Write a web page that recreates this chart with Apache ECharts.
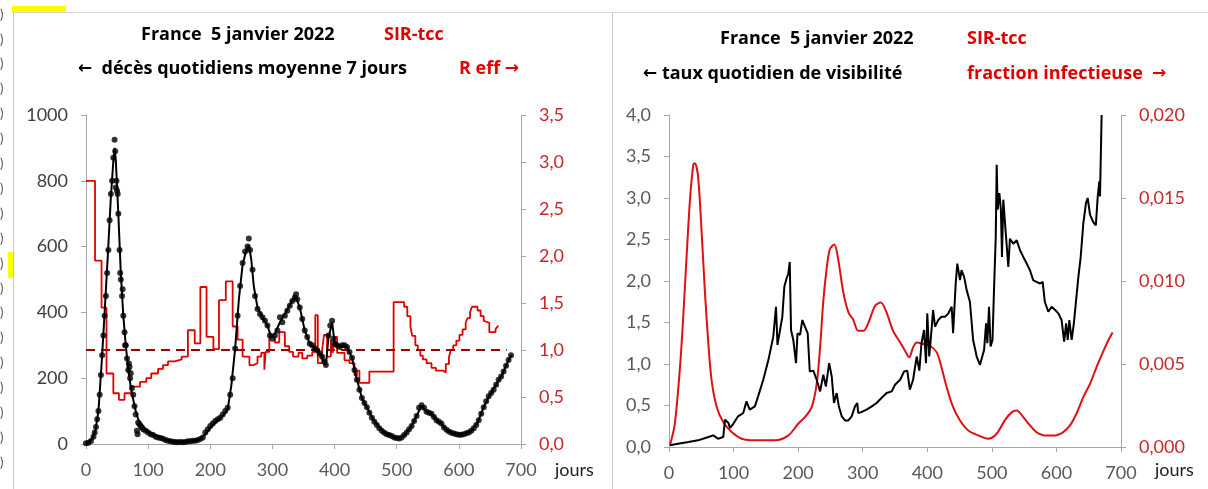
<!DOCTYPE html>
<html>
<head>
<meta charset="utf-8">
<script src="https://cdn.jsdelivr.net/npm/echarts@6/dist/echarts.min.js"></script>
<style>
  html, body { margin: 0; padding: 0; background: #fff; }
  #chart { width: 1208px; height: 489px; }
</style>
</head>
<body>
<div id="chart"></div>
<script>
// jours (axe x commun)
const joursTicks = [0, 100, 200, 300, 400, 500, 600, 700];

// décès quotidiens, moyenne 7 jours (points observés) [jour, décès]
const decesObs = [[0,2],[4,4],[8,9],[12,22],[14,35],[16,52],[18,75],[20,100],[22,150],[24,210],[26,270],[28,330],[30,390],[32,450],[34,520],[36,590],[38,680],[40,760],[42,800],[44,870],[46,925],[47,890],[48,780],[49,800],[50,770],[51,760],[52,700],[54,590],[55,520],[56,500],[58,450],[59,470],[60,390],[62,340],[63,300],[64,300],[66,260],[68,225],[69,245],[70,235],[71,200],[72,215],[74,170],[76,150],[78,115],[80,90],[82,40],[83,30],[84,65],[86,60],[88,55],[90,50],[92,45],[96,40],[100,35],[104,30],[108,27],[112,22],[116,20],[120,18],[124,16],[128,12],[132,10],[136,8],[140,7],[144,6],[148,5],[152,6],[156,5],[160,6],[164,8],[168,8],[172,10],[176,10],[180,12],[184,15],[188,20],[192,35],[196,45],[200,55],[204,62],[208,70],[212,75],[216,80],[220,90],[224,100],[228,110],[232,150],[236,200],[240,290],[244,390],[248,480],[252,550],[256,585],[260,600],[262,625],[264,590],[268,530],[272,450],[276,410],[280,395],[284,385],[288,375],[292,360],[296,330],[300,320],[304,330],[308,345],[312,385],[316,370],[320,390],[324,405],[328,420],[332,435],[336,445],[338,455],[340,440],[344,415],[348,380],[352,345],[356,325],[360,305],[364,300],[368,290],[372,285],[376,275],[380,265],[384,250],[386,240],[390,330],[393,360],[396,375],[398,320],[400,305],[404,300],[408,295],[412,300],[416,300],[420,295],[424,280],[428,262],[432,225],[436,195],[440,165],[444,140],[448,125],[452,112],[456,95],[460,80],[464,68],[468,58],[472,48],[476,40],[480,34],[484,30],[488,27],[492,24],[496,20],[500,18],[504,17],[508,20],[512,27],[516,35],[520,45],[524,55],[528,70],[532,85],[536,110],[540,118],[544,110],[548,98],[552,95],[556,92],[560,82],[564,72],[568,68],[572,62],[576,50],[580,43],[584,38],[588,34],[592,32],[596,30],[600,28],[604,28],[608,30],[612,33],[616,35],[620,40],[624,48],[628,58],[632,72],[636,92],[640,112],[644,130],[648,145],[652,155],[656,165],[660,180],[664,195],[668,205],[672,220],[676,238],[680,255],[684,270]];

// décès, courbe du modèle SIR-tcc [jour, décès]
const decesModele = [[0,2],[10,15],[15,40],[20,100],[25,240],[30,400],[35,570],[40,750],[44,860],[46,900],[48,860],[52,700],[56,520],[60,390],[64,300],[68,225],[72,175],[76,135],[80,100],[84,75],[90,55],[100,38],[110,28],[120,20],[130,12],[140,8],[150,6],[160,6],[170,9],[180,12],[190,25],[200,50],[210,68],[220,85],[228,105],[234,180],[240,290],[246,440],[252,545],[258,590],[262,605],[266,560],[270,480],[276,415],[284,385],[292,360],[298,325],[304,335],[312,370],[320,395],[330,430],[337,450],[344,415],[352,345],[360,305],[370,288],[380,265],[386,240],[390,320],[396,370],[400,310],[410,295],[420,295],[428,262],[436,195],[444,140],[452,112],[460,82],[470,55],[480,35],[490,26],[500,18],[508,20],[516,35],[524,55],[532,85],[540,117],[548,98],[556,92],[564,73],[572,62],[580,43],[590,33],[600,28],[610,32],[620,40],[630,65],[640,112],[650,150],[660,180],[670,212],[680,255],[685,270]];

// R eff (paliers) [jour du changement, R]
const rEff = [[0,2.80],[14.5,1.95],[25,1.45],[33,0.75],[44,0.54],[53,0.47],[62,0.54],[73,0.61],[87,0.66],[97,0.70],[105,0.75],[116,0.80],[124,0.84],[132,0.88],[143,0.90],[154,0.93],[164,1.21],[175,1.07],[184,1.67],[194,1.14],[205,1.01],[214,1.53],[225,1.73],[236,1.25],[244,1.11],[252,0.93],[263,0.84],[270,0.86],[276,0.93],[282,0.97],[287,0.79],[289,0.98],[295,1.14],[304,1.08],[311,1.19],[320,1.04],[327,0.98],[333,0.93],[342,0.97],[348,0.91],[356,0.94],[364,0.98],[369,1.37],[373,0.86],[380,1.0],[383,1.16],[388,0.93],[394,1.11],[397,0.97],[400,1.14],[404,0.97],[416,0.89],[424,0.86],[432,0.73],[436,0.78],[440,0.65],[456,0.77],[495,1.51],[512,1.46],[517,1.36],[522,1.25],[525,1.15],[530,1.05],[534,1.0],[538,0.94],[542,0.90],[548,0.86],[556,0.81],[563,0.78],[575,0.76],[579,0.85],[584,0.92],[587,1.0],[591,1.05],[596,1.10],[601,1.16],[606,1.22],[611,1.29],[614,1.34],[618,1.40],[621,1.46],[630,1.42],[635,1.36],[640,1.31],[643,1.29],[649,1.19],[659,1.22],[662,1.25],[664,1.25]];

// seuil R = 1
const seuilR = [[0,1],[677,1]];

// taux quotidien de visibilité [jour, taux]
const visibilite = [[1.5,0.02],[14,0.04],[30,0.06],[45,0.08],[61,0.12],[68.6,0.14],[76,0.10],[84,0.12],[86.7,0.33],[92,0.29],[94.5,0.23],[99.6,0.28],[107,0.37],[115,0.41],[120,0.55],[125,0.45],[133,0.49],[138,0.61],[146,0.81],[154,1.05],[161.5,1.33],[165.7,1.69],[168,1.23],[172,1.41],[175.5,1.57],[178.6,1.93],[182,2.03],[184.8,2.09],[187,2.23],[189,1.41],[192.5,1.29],[196.7,1.01],[199,1.37],[203,1.35],[206.5,1.53],[210.6,1.45],[214.8,1.37],[218,0.91],[223.5,0.92],[228.7,0.81],[234,0.67],[239,0.87],[243,0.73],[248,1.01],[252,0.85],[255.5,0.53],[259.7,0.65],[263,0.49],[267.5,0.37],[272.6,0.32],[277.7,0.32],[283,0.37],[288,0.49],[291.6,0.53],[293,0.41],[298,0.42],[306,0.45],[314,0.49],[321.6,0.53],[329,0.59],[337,0.65],[345,0.67],[350,0.75],[358,0.81],[364,0.91],[369,0.92],[373,0.69],[378,0.81],[383.6,1.09],[387.7,0.92],[391,1.25],[395,1.41],[398,1.01],[400,1.61],[403,1.09],[405.7,1.33],[409,1.65],[412,1.45],[417,1.53],[422,1.57],[427.5,1.57],[432.6,1.61],[437.8,1.69],[440,1.37],[444,1.97],[446.5,2.21],[450.7,2.01],[453,2.13],[457,2.05],[461,1.89],[466,1.75],[471,1.29],[476.5,1.09],[481.6,0.99],[484,0.97],[488,1.17],[491,1.49],[493,1.25],[495.6,1.69],[498,1.21],[501,1.29],[503,1.81],[506,2.53],[507.5,3.40],[509,2.86],[511.6,3.06],[514,2.86],[515.7,2.29],[517.7,2.98],[522,2.53],[525.5,2.17],[528,2.51],[533,2.45],[538.5,2.49],[543.6,2.37],[548.7,2.29],[554,2.21],[559,2.13],[564,2.01],[569,1.99],[574.6,1.97],[578.7,1.99],[582,1.75],[587.4,1.63],[592.6,1.69],[598,1.65],[603,1.61],[608,1.53],[612,1.27],[615,1.49],[617.5,1.29],[620,1.53],[623.6,1.29],[627,1.49],[630,1.73],[634,2.05],[637.6,2.29],[641.6,2.69],[645.8,2.94],[648.4,3.00],[652,2.80],[657,2.71],[661,2.67],[664,3.02],[666.4,3.20],[667.5,3.02],[670,4.0]];

// fraction infectieuse [jour, fraction]
const fractionInf = [[1.5,0.0001],[9,0.0014],[17,0.0048],[22,0.0078],[27,0.0113],[32.5,0.0149],[37.6,0.0170],[40,0.0171],[45,0.0163],[50.6,0.0129],[55.7,0.0093],[61,0.0062],[66,0.0040],[74,0.0024],[84,0.0015],[97,0.0009],[112.6,0.0005],[133,0.0004],[164,0.0004],[185,0.0007],[200,0.0014],[210.6,0.0018],[221,0.0024],[228.7,0.0038],[234,0.0060],[239,0.0088],[244,0.0107],[249,0.0119],[256,0.0122],[262,0.0113],[270,0.0093],[278,0.0081],[285,0.0077],[293,0.0070],[301,0.0070],[309,0.0075],[319,0.0085],[328,0.0087],[337,0.0081],[347,0.0070],[358,0.0063],[365.5,0.0058],[372,0.0054],[378,0.0060],[383.6,0.0063],[394,0.0062],[404,0.0061],[414.6,0.0057],[422,0.0048],[430,0.0036],[440,0.0024],[450.7,0.0016],[463.5,0.0010],[479,0.0007],[494.5,0.0005],[507.5,0.0008],[520,0.0016],[531,0.0021],[538.5,0.0022],[548.7,0.0018],[559,0.0013],[569,0.0009],[582,0.0007],[598,0.0007],[610.6,0.0009],[621,0.0013],[631,0.0020],[641.6,0.0030],[652,0.0038],[662,0.0048],[673,0.0058],[680,0.0064],[687,0.0069]];

const chart = echarts.init(document.getElementById("chart"));

const FONT = "Lato, 'Noto Sans', sans-serif";
const FONT_TITRE = "'Open Sans', 'Noto Sans', sans-serif";
const ROUGE = "#e00000";
const GRIS = "#a6a6a6";

function virgule(d) {
  return (v) => v.toFixed(d).replace(".", ",");
}

function axeX(grid) {
  return {
    gridIndex: grid,
    type: "value",
    min: 0,
    max: 700,
    interval: 100,
    axisLine: { show: true, onZero: false, lineStyle: { color: GRIS, width: 1 } },
    axisTick: { show: true, length: 5, lineStyle: { color: GRIS } },
    axisLabel: { color: "#595959", fontSize: 18, fontFamily: FONT, margin: 17 },
    splitLine: { show: false },
  };
}

function axeY(grid, pos, max, interval, color, fmt) {
  return {
    gridIndex: grid,
    type: "value",
    position: pos,
    min: 0,
    max: max,
    interval: interval,
    axisLine: { show: true, lineStyle: { color: GRIS, width: 1 } },
    axisTick: { show: true, length: 5, lineStyle: { color: GRIS } },
    axisLabel: { color: color, fontSize: 18, fontFamily: FONT, margin: 18, formatter: fmt },
    splitLine: { show: false },
  };
}

// petits ")" du tableur coupé à gauche
const bordGauche = [];
for (let i = 0; i < 19; i++) {
  bordGauche.push({
    type: "text",
    left: 0,
    top: 8 + i * 24.9,
    style: { text: ")", fill: "#555", font: "13px " + FONT },
  });
}

// texte de titre ; {f|←} / {f|→} : flèches en DejaVu Sans
function texte(x, y, t, color) {
  return {
    type: "text",
    left: x,
    top: y,
    style: {
      text: t,
      fill: color,
      font: "bold 18px " + FONT_TITRE,
      rich: {
        f: { fontFamily: "'DejaVu Sans'", fontWeight: "bold", fontSize: 17, fill: color },
      },
    },
  };
}

const option = {
  animation: false,
  backgroundColor: "#fff",
  grid: [
    { left: 86, top: 115, width: 435, height: 329 },
    { left: 669, top: 115, width: 452, height: 332 },
  ],
  xAxis: [axeX(0), axeX(1)],
  yAxis: [
    axeY(0, "left", 1000, 200, "#404040", (v) => String(v)),
    axeY(0, "right", 3.5, 0.5, "#c62828", virgule(1)),
    axeY(1, "left", 4, 0.5, "#595959", virgule(1)),
    axeY(1, "right", 0.02, 0.005, "#c62828", virgule(3)),
  ],
  graphic: [
    { type: "rect", shape: { x: 12, y: 6, width: 54, height: 7 }, style: { fill: "#ffff00" } },
    { type: "rect", shape: { x: 8, y: 252, width: 5, height: 26 }, style: { fill: "#ffff00" } },
    { type: "line", shape: { x1: 13, y1: 12.5, x2: 1208, y2: 12.5 }, style: { stroke: "#d4d4d4", lineWidth: 1 } },
    { type: "line", shape: { x1: 13.5, y1: 12, x2: 13.5, y2: 489 }, style: { stroke: "#c8c8c8", lineWidth: 1 } },
    { type: "line", shape: { x1: 612.5, y1: 12, x2: 612.5, y2: 489 }, style: { stroke: "#c8c8c8", lineWidth: 1 } },
    ...bordGauche,
    texte(141, 26, "France  5 janvier 2022", "#000"),
    texte(384, 26, "SIR-tcc", ROUGE),
    texte(78, 60, "{f|←}  décès quotidiens moyenne 7 jours", "#000"),
    texte(459, 60, "R eff {f|→}", ROUGE),
    texte(720, 30, "France  5 janvier 2022", "#000"),
    texte(967, 30, "SIR-tcc", ROUGE),
    texte(643, 65, "{f|←} taux quotidien de visibilité", "#000"),
    texte(967, 65, "fraction infectieuse  {f|→}", ROUGE),
    { type: "text", left: 555, top: 461, style: { text: "jours", fill: "#222", font: "18px " + FONT } },
    { type: "text", left: 1155, top: 461, style: { text: "jours", fill: "#222", font: "18px " + FONT } },
  ],
  series: [
    {
      name: "R eff",
      type: "line",
      xAxisIndex: 0,
      yAxisIndex: 1,
      step: "end",
      data: rEff,
      showSymbol: false,
      lineStyle: { color: ROUGE, width: 1.8 },
      z: 2,
    },
    {
      name: "R = 1",
      type: "line",
      xAxisIndex: 0,
      yAxisIndex: 1,
      data: seuilR,
      showSymbol: false,
      lineStyle: { color: "#a00000", width: 2, type: [9, 6] },
      z: 2,
    },
    {
      name: "décès modèle",
      type: "line",
      xAxisIndex: 0,
      yAxisIndex: 0,
      data: decesModele,
      showSymbol: false,
      lineStyle: { color: "#000", width: 2 },
      z: 3,
    },
    {
      name: "décès observés",
      type: "scatter",
      xAxisIndex: 0,
      yAxisIndex: 0,
      data: decesObs,
      symbolSize: 6,
      itemStyle: { color: "#000" },
      z: 4,
    },
    {
      name: "visibilité",
      type: "line",
      xAxisIndex: 1,
      yAxisIndex: 2,
      data: visibilite,
      showSymbol: false,
      lineStyle: { color: "#000", width: 2 },
      z: 3,
    },
    {
      name: "fraction infectieuse",
      type: "line",
      xAxisIndex: 1,
      yAxisIndex: 3,
      data: fractionInf,
      smooth: 0.3,
      showSymbol: false,
      lineStyle: { color: "#dd1111", width: 2 },
      z: 2,
    },
  ],
};

chart.setOption(option);
</script>
</body>
</html>
